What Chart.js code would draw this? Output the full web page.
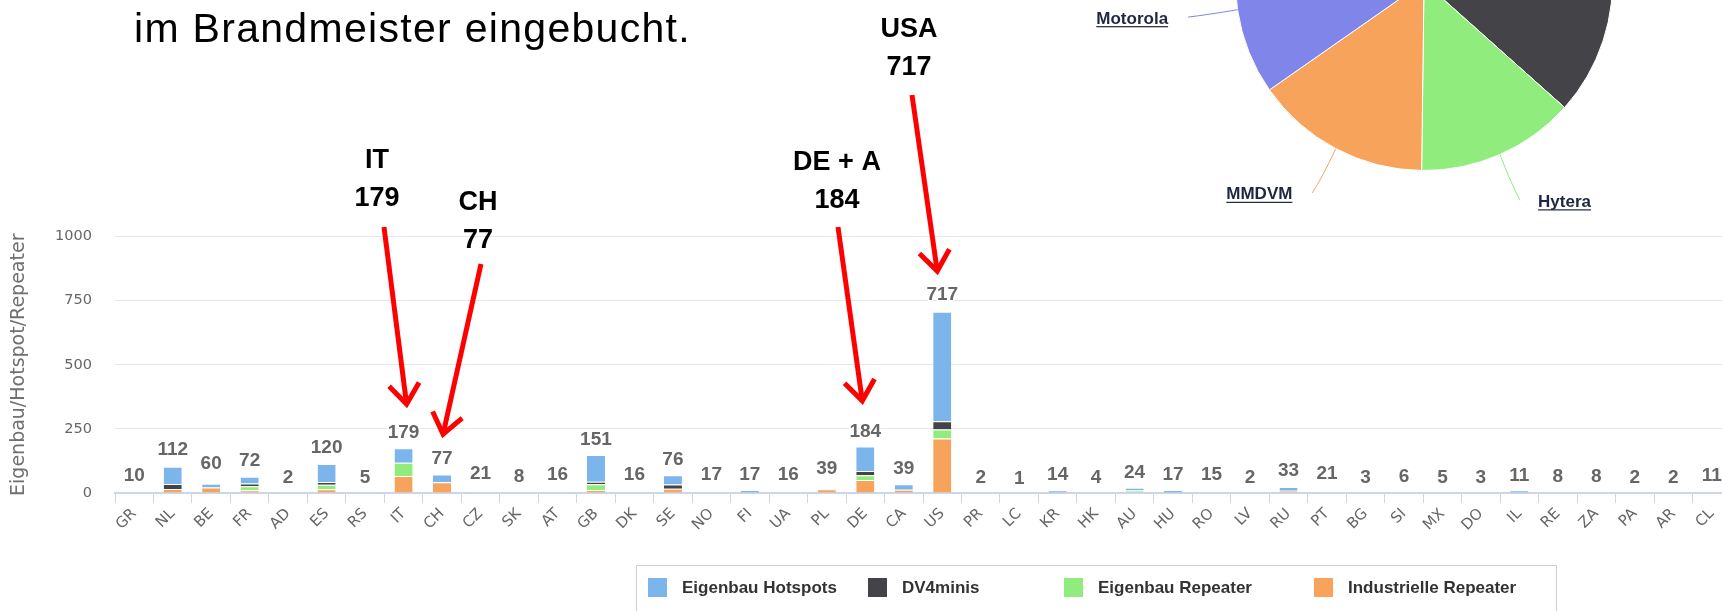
<!DOCTYPE html>
<html lang="de">
<head>
<meta charset="utf-8">
<title>Brandmeister Länder</title>
<script src="https://cdn.jsdelivr.net/npm/chart.js@4.4.1/dist/chart.umd.min.js"></script>
<style>
  html, body { margin: 0; padding: 0; background: #fff; }
  body { width: 1722px; height: 611px; overflow: hidden; position: relative; }
  #folie { position: absolute; left: 134px; top: 8px; font: 41px/41px "Liberation Sans", Arial, sans-serif; letter-spacing: 1.3px; color: #000; white-space: nowrap; }
  #balkenBox { position: absolute; left: 0; top: 0; width: 1760px; height: 611px; }
  #torteBox { position: absolute; left: 1024px; top: -218px; width: 800px; height: 460px; }
  #legende { position: absolute; left: 636px; top: 565px; width: 921px; height: 70px; border: 1px solid #cfcfcf; box-sizing: border-box; }
  .eintrag { position: absolute; top: 12px; height: 20px; line-height: 20px; font: bold 17px "Liberation Sans", Arial, sans-serif; color: #333; white-space: nowrap; }
  .eintrag i { display: inline-block; width: 19px; height: 19px; vertical-align: top; margin-right: 15px; }
</style>
</head>
<body>
<div id="balkenBox"><canvas id="balken"></canvas></div>
<div id="torteBox"><canvas id="torte"></canvas></div>
<div id="folie">im Brandmeister eingebucht.</div>
<div id="legende"></div>

<script>
// Länder auf der x-Achse
var laender = ['GR','NL','BE','FR','AD','ES','RS','IT','CH','CZ','SK','AT','GB','DK','SE','NO','FI','UA','PL','DE','CA','US',
  'PR','LC','KR','HK','AU','HU','RO','LV','RU','PT','BG','SI','MX','DO','IL','RE','ZA','PA','AR','CL'];

// Summen über den Balken
var summen = [10,112,60,72,2,120,5,179,77,21,8,16,151,16,76,17,17,16,39,184,39,717,
  2,1,14,4,24,17,15,2,33,21,3,6,5,3,11,8,8,2,2,11];

// Stapel von unten nach oben
var industrielleRepeater = [0,16,21,11,0,15,0,66,42,0,0,0,12,0,17,0,0,0,15,51,13,212,
  0,0,0,0,0,0,0,0,9,0,0,0,0,0,0,0,0,0,0,0];
var eigenbauRepeater = [0,0,0,15,0,17,0,52,0,0,0,0,22,0,0,0,0,0,0,18,0,36,
  0,0,0,0,10,0,0,0,0,0,0,0,0,0,0,0,0,0,0,0];
var dv4minis = [0,19,0,11,0,11,0,0,0,0,0,0,10,0,16,0,0,0,0,17,0,32,
  0,0,0,0,0,0,0,0,0,0,0,0,0,0,0,0,0,0,0,0];
var eigenbauHotspots = [0,67,15,26,0,70,0,56,30,0,0,0,104,0,36,0,12,0,0,95,21,427,
  0,0,11,0,10,12,0,0,14,0,0,0,0,0,11,0,0,0,0,0];

var yTicks = [0, 250, 500, 750, 1000];

// Torte oben rechts
var tortenNamen = ['Homebrew', 'DV4mini', 'Hytera', 'MMDVM', 'Motorola', 'Sonstige'];
var tortenAnteile = [10.5, 26.1, 13.6, 15.1, 14.7, 20.0];
var tortenFarben = ['#7cb5ec', '#434348', '#90ed7d', '#f7a35c', '#8085e9', '#f15c80'];

// rote Pfeile mit Beschriftung
var pfeilLaender = ['IT', 'CH', 'DE', 'US'];
var pfeilTitel = ['IT', 'CH', 'DE + A', 'USA'];

// Lage der Pfeile (Text-Mitte, Fußpunkt, Versatz der Spitze)
var pfeilTextPos = [[377, 158], [478, 200], [837, 160], [909, 27]];
var pfeilFuss = [[384, 227], [481, 264], [838, 227], [912, 95]];
var pfeilSpitze = [[3, 43], [1, 39], [-3, 45], [-5, 38]];
var legendeX = [11, 231, 427, 677];

var summenPlugin = {
  id: 'summen',
  afterDatasetsDraw: function(chart) {
    var ctx = chart.ctx, x = chart.scales.x, y = chart.scales.y;
    ctx.save();
    ctx.font = 'bold 19px "Liberation Sans", Arial, sans-serif';
    ctx.textAlign = 'center';
    ctx.textBaseline = 'alphabetic';
    ctx.lineJoin = 'round';
    for (var i = 0; i < summen.length; i++) {
      var px = x.getPixelForValue(i);
      var py = y.getPixelForValue(summen[i]) - 9;
      ctx.strokeStyle = '#ffffff';
      ctx.lineWidth = 3;
      ctx.strokeText(String(summen[i]), px, py);
      ctx.fillStyle = '#666666';
      ctx.fillText(String(summen[i]), px, py);
    }
    ctx.restore();
  }
};

var pfeilPlugin = {
  id: 'pfeile',
  afterDraw: function(chart) {
    var ctx = chart.ctx, x = chart.scales.x, y = chart.scales.y;
    ctx.save();
    for (var k = 0; k < pfeilLaender.length; k++) {
      var i = laender.indexOf(pfeilLaender[k]);
      var tx = pfeilTextPos[k][0], ty = pfeilTextPos[k][1];
      ctx.font = 'bold 27px "Liberation Sans", Arial, sans-serif';
      ctx.fillStyle = '#000000';
      ctx.textAlign = 'center';
      ctx.textBaseline = 'alphabetic';
      ctx.fillText(pfeilTitel[k], tx, ty + 10);
      ctx.fillText(String(summen[i]), tx, ty + 48);

      var x0 = pfeilFuss[k][0], y0 = pfeilFuss[k][1];
      var x1 = x.getPixelForValue(i) + pfeilSpitze[k][0];
      var y1 = y.getPixelForValue(summen[i]) - pfeilSpitze[k][1];
      var w = Math.atan2(y1 - y0, x1 - x0);
      ctx.strokeStyle = '#ff0000';
      ctx.lineWidth = 5;
      ctx.lineCap = 'butt';
      ctx.lineJoin = 'miter';
      ctx.beginPath();
      ctx.moveTo(x0, y0);
      ctx.lineTo(x1, y1);
      ctx.stroke();
      ctx.beginPath();
      ctx.moveTo(x1 - 25 * Math.cos(w - 0.65), y1 - 25 * Math.sin(w - 0.65));
      ctx.lineTo(x1, y1);
      ctx.lineTo(x1 - 25 * Math.cos(w + 0.65), y1 - 25 * Math.sin(w + 0.65));
      ctx.stroke();
    }
    ctx.restore();
  }
};

var tortenLabelPlugin = {
  id: 'tortenLabels',
  afterDraw: function(chart) {
    var ctx = chart.ctx;
    var meta = chart.getDatasetMeta(0);
    ctx.save();
    ctx.font = 'bold 17px "Liberation Sans", Arial, sans-serif';
    ctx.textBaseline = 'middle';
    meta.data.forEach(function(arc, i) {
      var p = arc.getProps(['x', 'y', 'startAngle', 'endAngle', 'outerRadius'], true);
      var a = (p.startAngle + p.endAngle) / 2;
      var c = Math.cos(a), s = Math.sin(a);
      var ax = p.x + c * p.outerRadius, ay = p.y + s * p.outerRadius;
      var qx = p.x + c * (p.outerRadius + 50), qy = p.y + s * (p.outerRadius + 50);
      ctx.strokeStyle = tortenFarben[i];
      ctx.lineWidth = 1;
      ctx.beginPath();
      ctx.moveTo(ax, ay);
      ctx.quadraticCurveTo(p.x + c * (p.outerRadius + 30), p.y + s * (p.outerRadius + 34), qx, qy);
      ctx.stroke();
      var links = c < 0;
      var lx = links ? qx - 20 : qx + 18;
      var ly = qy + 2;
      var breite = ctx.measureText(tortenNamen[i]).width;
      ctx.textAlign = links ? 'right' : 'left';
      ctx.fillStyle = '#1f2640';
      ctx.fillText(tortenNamen[i], lx, ly);
      var u0 = links ? lx - breite : lx;
      ctx.fillRect(u0, ly + 7, breite, 1.2);
    });
    ctx.restore();
  }
};

var balken = new Chart(document.getElementById('balken'), {
  type: 'bar',
  data: {
    labels: laender,
    datasets: [
      { label: 'Industrielle Repeater', data: industrielleRepeater, backgroundColor: '#f7a35c' },
      { label: 'Eigenbau Repeater', data: eigenbauRepeater, backgroundColor: '#90ed7d' },
      { label: 'DV4minis', data: dv4minis, backgroundColor: '#434348' },
      { label: 'Eigenbau Hotspots', data: eigenbauHotspots, backgroundColor: '#7cb5ec' }
    ]
  },
  options: {
    responsive: true,
    maintainAspectRatio: false,
    animation: false,
    layout: { padding: { left: 0, right: 29, top: 236.5, bottom: 78 } },
    datasets: {
      bar: {
        categoryPercentage: 0.5,
        barPercentage: 0.94,
        borderColor: '#ffffff',
        borderWidth: { top: 1, right: 0, bottom: 0, left: 0 },
        borderSkipped: 'start'
      }
    },
    plugins: {
      legend: { display: false, reverse: true },
      tooltip: { enabled: false }
    },
    scales: {
      x: {
        stacked: true,
        afterFit: function(s) { s.height = 40; },
        grid: { drawOnChartArea: false, drawTicks: true, tickLength: 10, color: '#ccd6eb', offset: true },
        border: { display: true, color: '#ccd6eb', width: 2 },
        ticks: {
          autoSkip: false, minRotation: 45, maxRotation: 45, padding: 2,
          color: '#666666', font: { family: 'DejaVu Sans', size: 15 }
        }
      },
      y: {
        stacked: true,
        min: yTicks[0],
        max: yTicks[yTicks.length - 1],
        afterFit: function(s) { s.width = 115; },
        grid: { color: '#e6e6e6', drawTicks: false },
        border: { display: false },
        ticks: {
          stepSize: yTicks[1] - yTicks[0], padding: 23,
          color: '#666666', font: { family: 'DejaVu Sans', size: 14.5 },
          callback: function(v) { return String(v); }
        },
        title: {
          display: true, text: 'Eigenbau/Hotspot/Repeater', color: '#707070',
          font: { family: 'DejaVu Sans', size: 19 }, padding: { top: 8, bottom: 0 }
        }
      }
    }
  },
  plugins: [summenPlugin, pfeilPlugin]
});

new Chart(document.getElementById('torte'), {
  type: 'pie',
  data: {
    labels: tortenNamen,
    datasets: [{ data: tortenAnteile, backgroundColor: tortenFarben, borderColor: '#ffffff', borderWidth: 1, hoverOffset: 0 }]
  },
  options: {
    responsive: true,
    maintainAspectRatio: false,
    animation: false,
    layout: { padding: { left: 211, right: 211, top: 11, bottom: 71 } },
    plugins: { legend: { display: false }, tooltip: { enabled: false } }
  },
  plugins: [tortenLabelPlugin]
});

// HTML-Legende aus den Datensätzen des Balkendiagramms
var eintraege = Chart.defaults.plugins.legend.labels.generateLabels(balken).reverse();
var box = document.getElementById('legende');
eintraege.forEach(function(e, k) {
  var d = document.createElement('div');
  d.className = 'eintrag';
  d.style.left = legendeX[k] + 'px';
  var q = document.createElement('i');
  q.style.background = e.fillStyle;
  d.appendChild(q);
  d.appendChild(document.createTextNode(e.text));
  box.appendChild(d);
});
</script>
</body>
</html>
